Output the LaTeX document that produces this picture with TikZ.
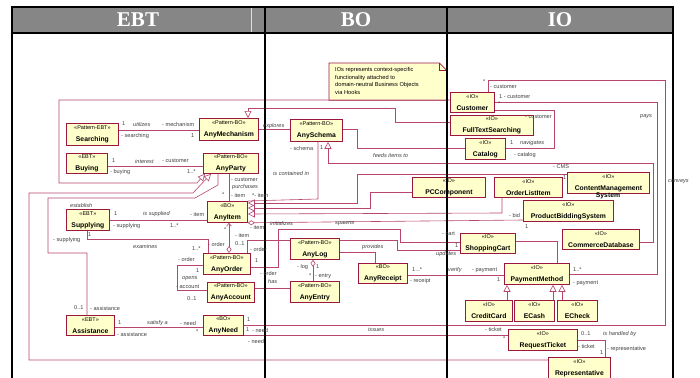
\documentclass[tikz,border=0pt]{standalone}
\usepackage{fontspec}
\setmainfont{Liberation Sans}
\newfontfamily\hdrfont{Liberation Serif}
\usetikzlibrary{arrows.meta}

\definecolor{clsfill}{HTML}{FFFFCC}
\definecolor{clsedge}{HTML}{9C1740}
\definecolor{lnkcol}{HTML}{B8456F}
\definecolor{hdrgray}{HTML}{868686}

\newcommand{\klass}[2]{{\fontsize{5.5}{6.4}\selectfont «#1»}\\{\fontsize{6.8}{7.4}\selectfont\bfseries #2}}

\begin{document}
\begin{tikzpicture}[x=1pt,y=-1pt,
  cls/.style={draw=clsedge,fill=clsfill,line width=0.8pt,inner sep=0pt,align=center,anchor=north west,minimum height=21},
  lnk/.style={draw=lnkcol,line width=0.6pt},
  gen/.style={lnk,-{Triangle[open,length=7pt,width=7pt,fill=white]}},
  comp/.style={lnk,{Diamond[open,length=7pt,width=5pt,fill=white]}-},
  lbl/.style={font=\fontsize{5.6}{6}\selectfont,text=black!75,inner sep=0pt,anchor=west},
  role/.style={lbl,font=\fontsize{5.6}{6}\selectfont\itshape},
  hdr/.style={font=\hdrfont\fontsize{21}{21}\selectfont\bfseries,text=white},
]
\useasboundingbox (0,0) rectangle (700,377);

% frame and column headers
\fill[hdrgray] (12,7) rectangle (673,33);
\draw[white!75!gray,line width=0.5pt] (251,8) -- (251,32);
\node[hdr] (hebt) at (138,20) {EBT};
\node[hdr] (hbo) at (356,20) {BO};
\node[hdr] (hio) at (560,20) {IO};

% note
\node[fill=clsfill,minimum width=117,minimum height=37,anchor=north west,inner sep=0pt] (note) at (329,63) {};
\fill[white] ([xshift=-7]note.north east) -- (note.north east) -- ([yshift=-7]note.north east) -- cycle;
\draw[clsedge,line width=0.6pt] (note.north west) -- ([xshift=-7]note.north east) -- ([yshift=-7]note.north east) -- (note.south east) -- (note.south west) -- cycle;
\draw[clsedge,line width=0.6pt] ([xshift=-7]note.north east) -- ([xshift=-7,yshift=-7]note.north east) -- ([yshift=-7]note.north east);
\node[align=left,anchor=north west,inner sep=0pt,font=\fontsize{5.7}{7.8}\selectfont] (notetxt) at (335,67) {IOs represents context-specific\\functionality attached to\\domain-neutral Business Objects\\via Hooks};

% EBT classes
\node[cls,minimum width=52,minimum height=22] (searching) at (66,123) {\klass{Pattern-EBT}{Searching}};
\node[cls,minimum width=41,minimum height=20] (buying) at (66,153) {\klass{EBT}{Buying}};
\node[cls,minimum width=43] (supplying) at (66,209) {\klass{EBT}{Supplying}};
\node[cls,minimum width=48,minimum height=20] (assistance) at (66,315) {\klass{EBT}{Assistance}};
\node[cls,minimum width=59,minimum height=22] (mech) at (199,118) {\klass{Pattern-BO}{AnyMechanism}};
\node[cls,minimum width=55,minimum height=20] (party) at (203,153) {\klass{Pattern-BO}{AnyParty}};
\node[cls,minimum width=40] (item) at (207,201) {\klass{BO}{AnyItem}};
\node[cls,minimum width=47] (order) at (203,253) {\klass{Pattern-BO}{AnyOrder}};
\node[cls,minimum width=47,minimum height=20] (account) at (207,282) {\klass{Pattern-BO}{AnyAccount}};
\node[cls,minimum width=40,minimum height=20] (need) at (203,315) {\klass{BO}{AnyNeed}};

% BO classes
\node[cls,minimum width=52,minimum height=22] (schema) at (290,119) {\klass{Pattern-BO}{AnySchema}};
\node[cls,minimum width=49] (log) at (290,238) {\klass{Pattern-BO}{AnyLog}};
\node[cls,minimum width=49] (entry) at (290,281) {\klass{Pattern-BO}{AnyEntry}};
\node[cls,minimum width=49,minimum height=20] (receipt) at (358,263) {\klass{BO}{AnyReceipt}};

% IO classes
\node[cls,minimum width=44,minimum height=20] (customer) at (450,92) {\klass{IO}{Customer}};
\node[cls,minimum width=83,minimum height=20] (fts) at (450,115) {\klass{IO}{FullTextSearching}};
\node[cls,minimum width=40] (catalog) at (465,138) {\klass{IO}{Catalog}};
\node[cls,minimum width=73,minimum height=20] (pc) at (412,177) {\klass{IO}{PCComponent}};
\node[cls,minimum width=68,minimum height=20] (oli) at (494,177) {\klass{IO}{OrderListItem}};
\node[cls,minimum width=82] (cms) at (567,172) {\klass{IO}{ContentManagement}};
\node[font=\fontsize{6.8}{7.4}\selectfont\bfseries,inner sep=0pt] (cmssys) at (608,196) {System};
\node[cls,minimum width=90] (pbs) at (523,200) {\klass{IO}{ProductBiddingSystem}};
\node[cls,minimum width=77,minimum height=20] (cdb) at (562,229) {\klass{IO}{CommerceDatabase}};
\node[cls,minimum width=55,minimum height=20] (cart) at (460,233) {\klass{IO}{ShoppingCart}};
\node[cls,minimum width=65] (pay) at (504,263) {\klass{IO}{PaymentMethod}};
\node[cls,minimum width=47] (credit) at (465,300) {\klass{IO}{CreditCard}};
\node[cls,minimum width=40] (ecash) at (514,300) {\klass{IO}{ECash}};
\node[cls,minimum width=40] (echeck) at (557,300) {\klass{IO}{ECheck}};
\node[cls,minimum width=69] (ticket) at (508,329) {\klass{IO}{RequestTicket}};
\node[cls,minimum width=62,minimum height=22] (rep) at (548,357) {\klass{IO}{Representative}};

% generalizations
\draw[gen] (customer.west |- 0,100) -- (59,100) -- (59,183) -- (197,183) -- ([xshift=2]party.south west);
\draw[gen] (rep.west |- 0,360) -- (29,360) -- (29,193) -- (193,193) -- ([xshift=8]party.south west);
\draw[gen] (fts.west |- 0,122) -- (395,122) -- (395,108) -- (248,108) -- (mech.north -| 248,0);
\draw[gen] (cdb.east |- 0,242) -- (653,242) -- (653,163) -- (328,163) -- (schema.south -| 328,0);
\draw[gen] (pc.west |- 0,192) -- (370,192) -- (370,208) -- (item.east |- 0,208);
\draw[gen] (oli.south -| 502,0) -- (502,213) -- (item.east |- 0,214);
\draw[gen] (cms.west |- 0,174) -- (357,174) -- (357,203) -- (item.east |- 0,203);
\draw[gen] (credit.north -| 507,0) -- (pay.south -| 507,0);
\draw[gen] (ecash.north -| 553,0) -- (pay.south -| 553,0);
\draw[gen] (echeck.north -| 562,0) -- (pay.south -| 562,0);

% associations
\draw[lnk] (searching.east |- 0,130) -- (mech.west |- 0,130);
\draw[lnk] (buying.east |- 0,166) -- (party.west |- 0,166);
\draw[lnk] (mech.east |- 0,129) -- (schema.west |- 0,129);
\draw[lnk] (party.south -| 229,0) -- (item.north -| 229,0);
\draw[lnk] (party.south -| 218,0) -- (218,185) -- (195,198) -- (48,198) -- (48,253) -- (87,253) -- (assistance.north -| 87,0);
\draw[lnk] (schema.south -| 318,0) -- (318,199) -- (item.north east);
\draw[lnk] (schema.east |- 0,129) -- (357,129) -- (357,148) -- (catalog.west |- 0,148);
\draw[lnk] (customer.east |- 0,110) -- (554,110) -- (554,148) -- (catalog.east |- 0,148);
\draw[lnk] (customer.east |- 0,102) -- (657,102) -- (657,274) -- (pay.east |- 0,274);
\draw[lnk] (customer.north -| 488,0) -- (488,80) -- (665,80) -- (665,325) -- (need.east |- 0,325);
\draw[lnk] (need.east |- 0,335) -- (ticket.west |- 0,335);
\draw[lnk] (ticket.east |- 0,340) -- (605,340) -- (rep.north -| 605,0);
\draw[lnk] (assistance.east |- 0,327) -- (need.west |- 0,327);
\draw[lnk] (supplying.east |- 0,220) -- (item.west |- 0,220);
\draw[lnk] (supplying.south -| 87,0) -- (87,239) -- (208,239) -- (order.north -| 208,0);
\draw[lnk,{Diamond[open,length=7pt,width=5pt,fill=white]}-{Straight Barb[length=3pt,width=5pt]}] (order.north -| 229,0) -- (item.south -| 229,0);
\draw[lnk] (order.west |- 0,265) -- (177,265) -- (177,290) -- (account.west |- 0,290);
\draw[lnk] (account.east |- 0,288) -- (entry.west |- 0,288);
\draw[lnk] (order.east |- 0,267) -- (278,267) -- (278,229) -- (400,229) -- (400,242) -- (cart.west |- 0,242);
\draw[lnk] (order.north -| 247,0) -- (247,240) -- (log.west |- 0,240);
\draw[comp] (log.south -| 313,0) -- (entry.north -| 313,0);
\draw[lnk] (log.east |- 0,252) -- (375,252) -- (receipt.north -| 375,0);
\draw[lnk] (log.east |- 0,240) -- (397,240) -- (397,250) -- (cart.west |- 0,250);
\draw[lnk] (receipt.east |- 0,275) -- (pay.west |- 0,275);
\draw[lnk] (cart.east |- 0,241) -- (557,241) -- (pay.north -| 557,0);
\draw[comp] (item.south east) -- (pbs.west |- 0,220);

% frame on top
\draw[line width=1.6pt] (12,380) -- (12,7) -- (673,7) -- (673,380);
\draw[line width=1.6pt] (12,33) -- (673,33);
\draw[line width=1.6pt] (265,7) -- (265,380);
\draw[line width=1.6pt] (447,7) -- (447,380);

% labels
\node[lbl] (ls1) at (122,124) {1};
\node[role] (ls2) at (133,124) {utilizes};
\node[lbl] (ls3) at (162,124) {- mechanism};
\node[lbl] (ls4) at (121,136) {- searching};
\node[lbl] (ls5) at (191,136) {1};
\node[lbl] (lb1) at (112,161) {1};
\node[role] (lb2) at (135,161) {interest};
\node[lbl] (lb3) at (162,161) {- customer};
\node[lbl] (lb4) at (110,172) {- buying};
\node[lbl] (lb5) at (187,172) {1..*};
\node[role] (lx0) at (263,126) {explores};
\node[lbl] (lp1) at (231,180) {- customer};
\node[role] (lp2) at (232,187) {purchases};
\node[lbl] (lp3) at (222,195) {*};
\node[lbl] (lp4) at (231,195) {- item};
\node[lbl] (lc1) at (252,195) {*- item};
\node[role] (lc2) at (273,173) {is contained in};
\node[lbl] (lc3) at (290,148) {- schema};
\node[lbl] (lc4) at (320,148) {1};
\node[role] (lf1) at (373,155) {feeds items to};
\node[lbl] (li1) at (114,214) {1};
\node[role] (li2) at (143,214) {is supplied};
\node[lbl] (li3) at (190,214) {- item};
\node[lbl] (li4) at (113,226) {- supplying};
\node[lbl] (li5) at (170,226) {1..*};
\node[role] (le1) at (70,205) {establish};
\node[lbl] (le2) at (53,240) {- supplying};
\node[lbl] (le3) at (74,308) {0..1};
\node[lbl] (le4) at (90,308) {- assistance};
\node[lbl] (lx1) at (88,235) {1};
\node[role] (lx2) at (133,246) {examines};
\node[lbl] (lx3) at (192,249) {1..*};
\node[lbl] (lx4) at (208,244) {- order};
\node[lbl] (lo1) at (224,230) {*};
\node[lbl] (lo2) at (235,235) {- item};
\node[lbl] (lo3) at (235,244) {0..1};
\node[lbl] (la1) at (178,259) {- order};
\node[lbl] (la2) at (196,271) {1};
\node[role] (la3) at (182,279) {opens};
\node[lbl] (la4) at (176,287) {- account};
\node[lbl] (la5) at (187,299) {0..1};
\node[lbl] (lr1) at (250,249) {- order};
\node[lbl] (lr2) at (255,261) {1};
\node[lbl] (lr3) at (260,273) {- order};
\node[role] (lr4) at (268,281) {has};
\node[role] (lr5) at (335,224) {spawns};
\node[lbl] (lr6) at (442,234) {- cart};
\node[role] (ln1) at (270,223) {initializes};
\node[lbl] (ln2) at (250,227) {- item};
\node[lbl] (ln3) at (509,215) {- bid};
\node[lbl] (ln4) at (525,227) {1};
\node[lbl] (lg1) at (297,267) {- log};
\node[lbl] (lg2) at (316,267) {1};
\node[lbl] (lg3) at (309,276) {*};
\node[lbl] (lg4) at (315,276) {- entry};
\node[role] (lv1) at (362,247) {provides};
\node[role] (lv2) at (436,254) {updates};
\node[lbl] (lv3) at (455,246) {1};
\node[lbl] (lq1) at (412,270) {1...*};
\node[lbl] (lq2) at (410,281) {- receipt};
\node[role] (lq3) at (448,270) {verify};
\node[lbl] (lq4) at (472,270) {- payment};
\node[lbl] (lq5) at (497,280) {1};
\node[role] (ly1) at (640,117) {pays};
\node[lbl] (ly2) at (573,270) {1..*};
\node[lbl] (ly3) at (573,283) {- payment};
\node[lbl] (ly4) at (499,97) {1 - customer};
\node[lbl] (lk1) at (483,82) {*};
\node[lbl] (lk2) at (490,87) {- customer};
\node[role] (lk3) at (668,182) {conveys};
\node[lbl] (lk4) at (247,320) {1};
\node[lbl] (lk5) at (252,330) {- need};
\node[lbl] (lt1) at (246,330) {1};
\node[lbl] (lt2) at (248,341) {- need};
\node[role] (lt3) at (368,329) {issues};
\node[lbl] (lt4) at (485,329) {- ticket};
\node[lbl] (lt5) at (503,339) {*};
\node[lbl] (lh1) at (581,334) {0..1};
\node[role] (lh2) at (603,334) {is handled by};
\node[lbl] (lh3) at (578,346) {- ticket};
\node[lbl] (lh4) at (600,353) {1};
\node[lbl] (lh5) at (607,349) {- representative};
\node[lbl] (lw1) at (118,323) {1};
\node[role] (lw2) at (147,323) {satisfy a};
\node[lbl] (lw3) at (180,323) {- need};
\node[lbl] (lw4) at (117,334) {- assistance};
\node[lbl] (lw5) at (196,332) {*};
\node[lbl] (lm1) at (498,104) {*};
\node[lbl] (lm2) at (525,117) {- customer};
\node[lbl] (lm3) at (510,143) {1};
\node[role] (lm4) at (520,143) {navigates};
\node[lbl] (lm5) at (514,155) {- catalog};
\node[lbl] (ld1) at (553,167) {- CMS};
\node[lbl] (ld2) at (563,178) {1};
\end{tikzpicture}
\end{document}
